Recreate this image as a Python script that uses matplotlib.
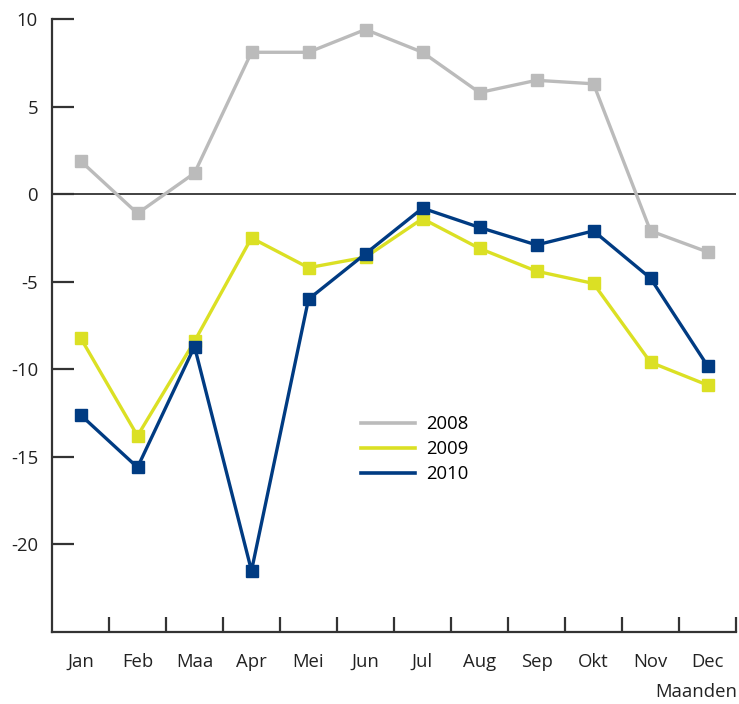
import matplotlib
matplotlib.use("Agg")
import matplotlib.pyplot as plt

months = ["Jan", "Feb", "Maa", "Apr", "Mei", "Jun", "Jul", "Aug", "Sep", "Okt", "Nov", "Dec"]
v2008 = [1.9, -1.1, 1.2, 8.1, 8.1, 9.4, 8.1, 5.8, 6.5, 6.3, -2.1, -3.3]
v2009 = [-8.2, -13.8, -8.4, -2.5, -4.2, -3.6, -1.4, -3.1, -4.4, -5.1, -9.6, -10.9]
v2010 = [-12.6, -15.6, -8.7, -21.5, -6.0, -3.4, -0.8, -1.9, -2.9, -2.1, -4.8, -9.8]
yticks = [-20, -15, -10, -5, 0, 5, 10]

plt.rcParams['font.family'] = ['Open Sans', 'DejaVu Sans']
fig = plt.figure(figsize=(7.39, 7.04), dpi=100)
ax = fig.add_axes([52/739, 1 - 632/704, (736-52)/739, (632-19)/704])

fs = 13.3
x = list(range(len(months)))
ax.axhline(0, color="#333333", lw=1.3, zorder=1)
ax.plot(x, v2008, color="#bbbbbb", lw=2.4, marker="s", ms=8, label="2008", zorder=2)
ax.plot(x, v2009, color="#dbe024", lw=2.4, marker="s", ms=8, label="2009", zorder=3)
ax.plot(x, v2010, color="#003b82", lw=2.4, marker="s", ms=8, label="2010", zorder=4)

ax.set_xlim(-0.5, 11.5)
ax.set_ylim(-25, 10)
ax.spines['top'].set_visible(False)
ax.spines['right'].set_visible(False)
for s in ['left', 'bottom']:
    ax.spines[s].set_linewidth(1.6)
    ax.spines[s].set_color("#333333")

ax.set_yticks(yticks)
ax.set_yticklabels([str(t) for t in yticks])
ax.tick_params(axis='y', direction='in', length=16, width=1.6, color="#333333",
               labelsize=fs, pad=10, labelcolor="#222222")
ax.set_xticks([i - 0.5 for i in range(1, 13)])
ax.set_xticklabels([])
ax.set_xticks(x, minor=True)
ax.set_xticklabels(months, minor=True)
ax.tick_params(axis='x', which='major', direction='in', length=11, width=1.6, color="#333333")
ax.tick_params(axis='x', which='minor', length=0, labelsize=fs, pad=15, labelcolor="#222222")

fig.text(737/739, 1 - 692/704, "Maanden", ha="right", va="center", fontsize=fs, color="#222222")

leg = ax.legend(loc="upper left", bbox_to_anchor=(361/739, 1 - 415/704), bbox_transform=fig.transFigure,
                frameon=False, fontsize=fs, handlelength=2.9, handletextpad=0.65, labelspacing=0.38,
                borderaxespad=0, borderpad=0)
for line in leg.get_lines():
    line.set_marker("")
    line.set_linewidth(2.6)

fig.savefig("out.png", dpi=100, facecolor="white")
